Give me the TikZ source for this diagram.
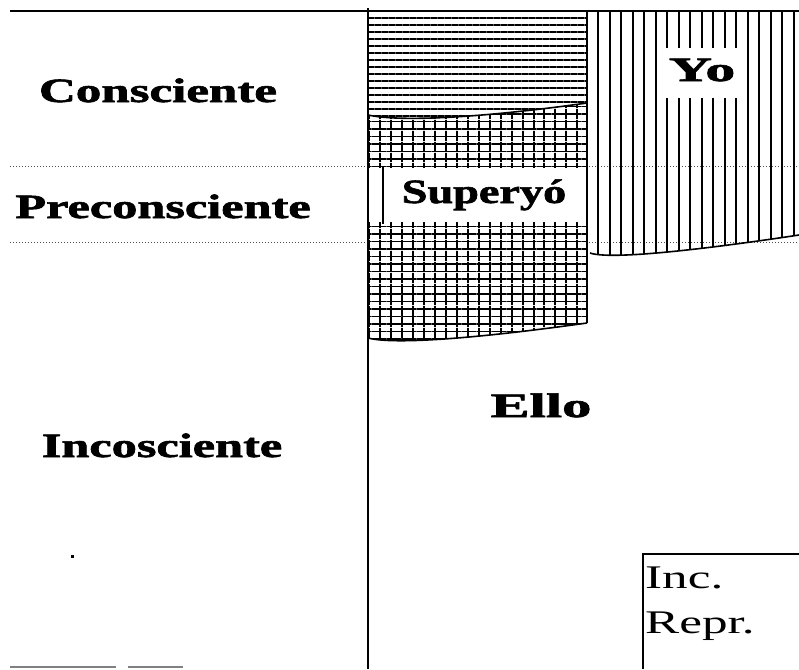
\documentclass[tikz,border=0pt]{standalone}
\usepackage{fontspec}
\setmainfont{Liberation Serif}[BoldFeatures={FakeBold=1.6}]
\usetikzlibrary{patterns.meta}
\newcommand\xs[2]{\scalebox{#1}[1]{#2}}

\tikzset{
  lbl/.style={font=\fontsize{34}{40}\selectfont\bfseries, inner sep=0pt, anchor=base},
  rep/.style={font=\fontsize{33}{40}\selectfont, inner sep=0pt, anchor=base west},
  hlin/.style={pattern={Lines[angle=0,distance=7pt,line width=1.8pt]}},
  glin/.style={pattern={Lines[angle=0,distance=7.5pt,line width=1.7pt]}},
  vlin/.style={pattern={Lines[angle=90,distance=10.5pt,line width=1.7pt]}},
  yolin/.style={pattern={Lines[angle=90,distance=11.5pt,line width=2pt]}},
  sep/.style={black!70, line width=1pt, dotted}
}

\begin{document}
\begin{tikzpicture}[x=1pt,y=-1pt]
  \useasboundingbox (0,0) rectangle (799,669);
  % levels
  \draw[sep] (10,166) -- (799,166);
  \draw[sep] (10,242) -- (799,242);
  % yo
  \fill[yolin] (587,11) -- (799,11) -- (799,235)
    .. controls (700,250) and (610,260) .. (590,253) -- cycle;
  \draw[line width=1.6pt] (590,253) .. controls (610,260) and (700,250) .. (799,235);
  % superyo
  \fill[white, preaction={fill=white}, hlin] (368,11) -- (587,11) -- (587,103)
    .. controls (480,118) and (400,122) .. (368,115) -- cycle;
  \fill[white, preaction={fill=white}, preaction={glin}, vlin] (368,115)
    .. controls (400,122) and (480,118) .. (587,103) -- (587,323)
    .. controls (480,338) and (395,345) .. (368,338) -- cycle;
  % label gaps
  \fill[white] (369,168) rectangle (586,222);
  \fill[white] (658,48) rectangle (747,98);
  \draw[line width=1.6pt] (368,115) .. controls (400,122) and (480,118) .. (587,103);
  \draw[line width=1.6pt] (368,338) .. controls (395,345) and (480,338) .. (587,323);
  \draw[line width=1.6pt] (587,11) -- (587,323);
  \draw[line width=1.6pt] (383,166) -- (383,224);
  % frame
  \draw[line width=1.6pt] (10,11) -- (799,11);
  \draw[line width=1.8pt] (368,8) -- (368,669);
  \draw[line width=1.2pt] (799,554) -- (643,554) -- (643,669);
  \draw[gray, line width=1.2pt] (10,667) -- (116,667);
  \draw[gray, line width=1.2pt] (128,667) -- (183,667);
  \fill (71,555) rectangle (74,558);
  % texts
  \node[lbl] (consc) at (158,102) {\xs{1.5}{Consciente}};
  \node[lbl] (precon) at (163,218) {\xs{1.48}{Preconsciente}};
  \node[lbl] (incon) at (162,457) {\xs{1.48}{Incosciente}};
  \node[lbl] (ello) at (541,417) {\xs{1.72}{Ello}};
  \node[lbl] (superyo) at (484,203) {\xs{1.36}{Superyó}};
  \node[lbl] (yo) at (702,81) {\xs{1.76}{Yo}};
  \node[rep] (inc) at (645,588) {\xs{1.55}{Inc.}};
  \node[rep] (repr) at (645,633) {\xs{1.55}{Repr.}};
\end{tikzpicture}
\end{document}
